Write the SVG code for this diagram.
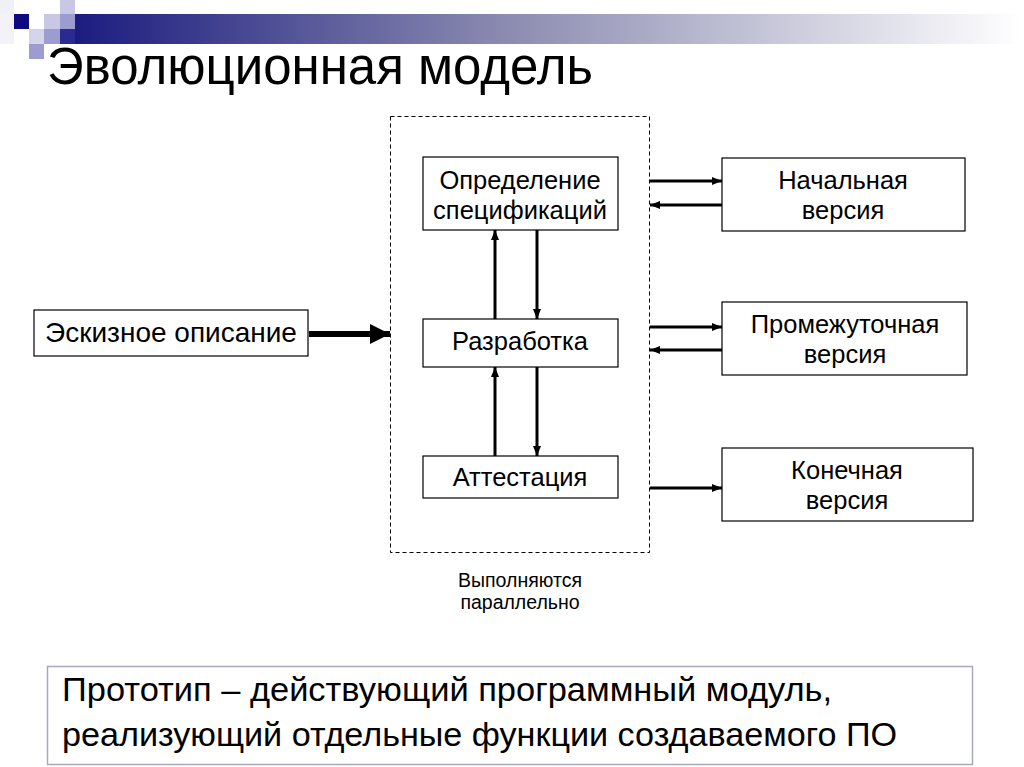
<svg xmlns="http://www.w3.org/2000/svg" width="1024" height="767" viewBox="0 0 1024 767">
<defs>
<linearGradient id="bar" x1="0" y1="0" x2="1" y2="0">
<stop offset="0" stop-color="#1c1c80"/>
<stop offset="0.45" stop-color="#8a8ab0"/>
<stop offset="1" stop-color="#ffffff"/>
</linearGradient>
<marker id="ah" viewBox="0 0 10 10" refX="10" refY="5" markerWidth="10" markerHeight="10" markerUnits="userSpaceOnUse" orient="auto">
<path d="M0,1 L10,5 L0,9 Z" fill="#000"/>
</marker>
<marker id="ahBig" viewBox="0 0 10 10" refX="10" refY="5" markerWidth="20" markerHeight="22" markerUnits="userSpaceOnUse" orient="auto">
<path d="M0,0 L10,5 L0,10 Z" fill="#000"/>
</marker>
</defs>
<style>
.box{fill:#fff;stroke:#000;stroke-width:1.2}
.t{font-family:"Liberation Sans",Arial,sans-serif;font-size:25.5px;fill:#000;text-anchor:middle}
.c{stroke:#000;stroke-width:3;fill:none;marker-end:url(#ah)}
</style>
<rect width="1024" height="767" fill="#fff"/>
<g id="decor">
<rect x="75" y="14" width="946" height="30" fill="url(#bar)"/>
<rect x="0" y="0" width="14" height="14" fill="#f0f0f8"/>
<rect x="60" y="0" width="15" height="14" fill="#c8c8e4"/>
<rect x="14" y="14" width="15" height="15" fill="#0c0c80"/>
<rect x="44" y="14" width="16" height="15" fill="#c8c8e4"/>
<rect x="60" y="14" width="15" height="15" fill="#9c9cd0"/>
<rect x="0" y="14" width="14" height="30" fill="#f2f2f8"/>
<rect x="29" y="29" width="15" height="15" fill="#d4d4ea"/>
<rect x="44" y="29" width="16" height="15" fill="#9c9cd0"/>
<rect x="60" y="29" width="15" height="15" fill="#2a2a90"/>
<rect x="29" y="44" width="15" height="15" fill="#9c9cd0"/>
</g>
<text id="title" x="47" y="84" font-family="Liberation Sans,Arial,sans-serif" font-size="51" fill="#000">Эволюционная модель</text>
<g id="parallel">
<rect x="390.5" y="116.5" width="259" height="436" fill="none" stroke="#000" stroke-width="1" stroke-dasharray="4,3"/>
<text class="t" x="520" y="587" style="font-size:19.5px">Выполняются</text>
<text class="t" x="520" y="609" style="font-size:19.5px">параллельно</text>
</g>
<g id="spec">
<rect class="box" x="423" y="157" width="195" height="73"/>
<text class="t" x="520" y="189">Определение</text>
<text class="t" x="520" y="219">спецификаций</text>
</g>
<g id="dev">
<rect class="box" x="423" y="319" width="195" height="48"/>
<text class="t" x="520" y="350">Разработка</text>
</g>
<g id="attest">
<rect class="box" x="423" y="456" width="195" height="42"/>
<text class="t" x="520" y="486">Аттестация</text>
</g>
<g id="sketch">
<rect class="box" x="34" y="310" width="274" height="46"/>
<text class="t" x="171" y="342" style="font-size:28px">Эскизное описание</text>
</g>
<g id="initial">
<rect class="box" x="722" y="158" width="243" height="73"/>
<text class="t" x="843" y="189">Начальная</text>
<text class="t" x="843" y="219">версия</text>
</g>
<g id="intermediate">
<rect class="box" x="722" y="302" width="245" height="73"/>
<text class="t" x="845" y="333">Промежуточная</text>
<text class="t" x="845" y="363">версия</text>
</g>
<g id="final">
<rect class="box" x="722" y="448" width="251" height="73"/>
<text class="t" x="847" y="479">Конечная</text>
<text class="t" x="847" y="509">версия</text>
</g>
<g id="connectors">
<line x1="309" y1="334" x2="390" y2="334" stroke="#000" stroke-width="6" marker-end="url(#ahBig)"/>
<line class="c" x1="495" y1="319" x2="495" y2="230"/>
<line class="c" x1="537" y1="230" x2="537" y2="319"/>
<line class="c" x1="495" y1="456" x2="495" y2="367"/>
<line class="c" x1="537" y1="367" x2="537" y2="456"/>
<line class="c" x1="650" y1="181" x2="722" y2="181"/>
<line class="c" x1="722" y1="205" x2="650" y2="205"/>
<line class="c" x1="650" y1="327" x2="722" y2="327"/>
<line class="c" x1="722" y1="350" x2="650" y2="350"/>
<line class="c" x1="650" y1="488" x2="722" y2="488"/>
</g>
<g id="definition">
<rect x="47.5" y="666.5" width="925" height="98" fill="#fff" stroke="#a8a8c0" stroke-width="1.5"/>
<text x="62" y="701" font-family="Liberation Sans,Arial,sans-serif" font-size="34" textLength="770" lengthAdjust="spacingAndGlyphs" fill="#000">Прототип – действующий программный модуль,</text>
<text x="62" y="746" font-family="Liberation Sans,Arial,sans-serif" font-size="34" textLength="835" lengthAdjust="spacingAndGlyphs" fill="#000">реализующий отдельные функции создаваемого ПО</text>
</g>
</svg>
